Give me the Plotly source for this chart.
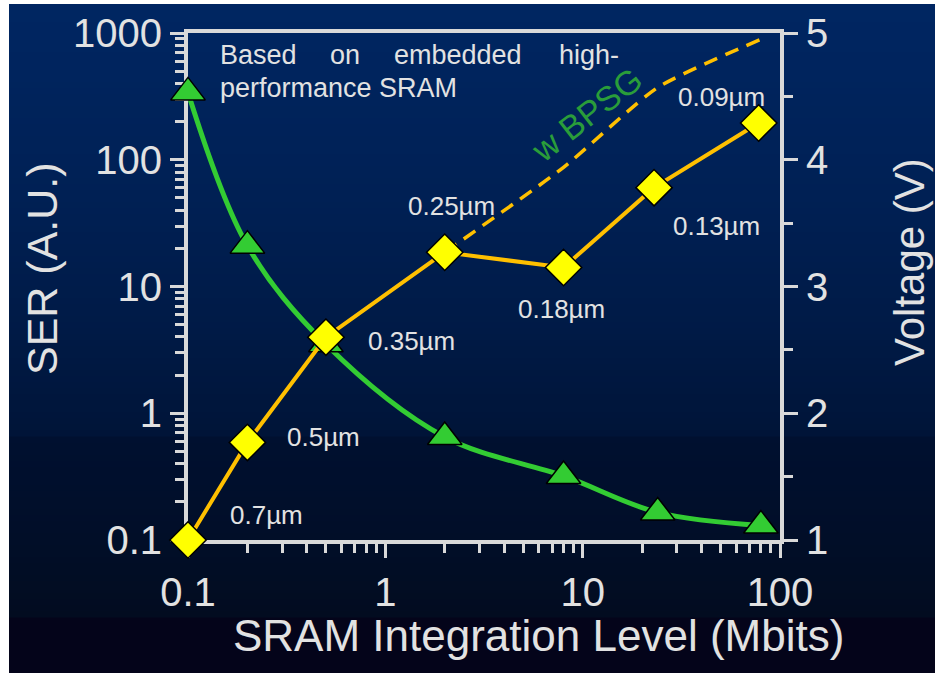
import plotly.graph_objects as go

# ---------------- data ----------------
ser_x = [0.1, 0.2, 0.5, 2, 8, 24, 80]
ser_y = [340, 21, 3.5, 0.65, 0.32, 0.165, 0.13]

volt_x = [0.1, 0.2, 0.5, 2, 8, 23, 78]
volt_y = [1.0, 1.77, 2.6, 3.27, 3.15, 3.78, 4.29]

bpsg_x = [2, 8, 24, 80]
bpsg_y = [3.27, 3.94, 4.57, 4.95]

node_labels = ["0.7µm", "0.5µm", "0.35µm", "0.25µm", "0.18µm", "0.13µm", "0.09µm"]

x_ticks = [0.1, 1, 10, 100]
x_ticktext = ["0.1", "1", "10", "100"]
y_ticks = [0.1, 1, 10, 100, 1000]
y_ticktext = ["0.1", "1", "10", "100", "1000"]
v_ticks = [1, 2, 3, 4, 5]
v_ticktext = ["1", "2", "3", "4", "5"]

# ---------------- layout helpers ----------------
W, H = 935, 673
L, R, T, B = 188, 780, 33, 540


def px(x):
    return (x - L) / (R - L)


def py(y):
    return (B - y) / (B - T)


AX = "#d9d9d9"
TXT = "#e2e2e2"
FONT = "Liberation Sans, Arial, sans-serif"

fig = go.Figure()

fig.add_trace(go.Scatter(
    x=ser_x, y=ser_y, mode="lines+markers", line=dict(color="#33cc33", width=5, shape="spline", smoothing=1.0),
    marker=dict(symbol="triangle-up", size=30, color="#33cc33", line=dict(color="#000000", width=1.5)),
    cliponaxis=False, showlegend=False, yaxis="y"))

fig.add_trace(go.Scatter(
    x=bpsg_x, y=bpsg_y, mode="lines", line=dict(color="#ffc000", width=3.5, dash="14px,9px", shape="spline", smoothing=0.6),
    cliponaxis=False, showlegend=False, yaxis="y2"))

fig.add_trace(go.Scatter(
    x=volt_x, y=volt_y, mode="lines+markers", line=dict(color="#ffc000", width=4),
    marker=dict(symbol="diamond", size=28, color="#ffff00", line=dict(color="#000000", width=1.5)),
    cliponaxis=False, showlegend=False, yaxis="y2"))

# background gradient
stops = [(4, (0, 38, 98)), (200, (0, 32, 84)), (330, (0, 26, 70)), (436, (0, 20, 56)),
         (437, (0, 16, 48)), (540, (1, 14, 40)), (617, (2, 12, 32)), (618, (4, 4, 26)), (673, (4, 4, 26))]


def col_at(y):
    for (y0, c0), (y1, c1) in zip(stops[:-1], stops[1:]):
        if y0 <= y <= y1:
            t = 0 if y1 == y0 else (y - y0) / (y1 - y0)
            return "rgb(%d,%d,%d)" % tuple(round(a + (b - a) * t) for a, b in zip(c0, c1))
    return "rgb(4,4,26)"


shapes = []
step = 6
yy = 4
while yy < H:
    y2 = min(yy + step, H)
    if yy < 437 <= y2:
        y2 = 437
    if yy < 618 <= y2:
        y2 = 618
    shapes.append(dict(type="rect", xref="paper", yref="paper", x0=px(9), x1=px(W + 5),
                       y0=py(y2 + 0.5), y1=py(yy), fillcolor=col_at((yy + y2) / 2),
                       line=dict(width=0), layer="below"))
    yy = y2

# label positions (pixels)
label_pos = [(266, 515), (323, 437), (411, 341), (451, 206), (561, 309), (716, 226), (721, 97)]
annotations = []
for t, (lx, ly) in zip(node_labels, label_pos):
    annotations.append(dict(text=t, x=px(lx), y=py(ly), xref="paper", yref="paper", showarrow=False,
                            font=dict(size=26, color=TXT, family=FONT), xanchor="center", yanchor="middle"))

# justified note
note_words = [("Based", 218), ("on", 328), ("embedded", 392), ("high-", 557)]
for w, lx in note_words:
    annotations.append(dict(text=w, x=px(lx), y=py(55), xref="paper", yref="paper", showarrow=False,
                            font=dict(size=27, color=TXT, family=FONT), xanchor="left", yanchor="middle"))
annotations.append(dict(text="performance SRAM", x=px(218), y=py(88), xref="paper", yref="paper", showarrow=False,
                        font=dict(size=27, color=TXT, family=FONT), xanchor="left", yanchor="middle"))

annotations.append(dict(text="w BPSG", x=px(586), y=py(115), xref="paper", yref="paper", showarrow=False,
                        textangle=-38, font=dict(size=34, color="#2a9d3a", family=FONT),
                        xanchor="center", yanchor="middle"))

annotations.append(dict(text="SER (A.U.)", x=px(42), y=py(269), xref="paper", yref="paper", showarrow=False,
                        textangle=-90, font=dict(size=43, color=TXT, family=FONT), xanchor="center", yanchor="middle"))
annotations.append(dict(text="Voltage (V)", x=px(909), y=py(262), xref="paper", yref="paper", showarrow=False,
                        textangle=-90, font=dict(size=42, color=TXT, family=FONT), xanchor="center", yanchor="middle"))
annotations.append(dict(text="SRAM Integration Level (Mbits)", x=px(538), y=py(635), xref="paper", yref="paper",
                        showarrow=False, font=dict(size=44, color=TXT, family=FONT), xanchor="center", yanchor="middle"))

x_minor = [m * 10 ** d for d in (-1, 0, 1) for m in range(2, 10)]
y_minor = [m * 10 ** d for d in (-1, 0, 1, 2) for m in range(2, 10)]

tickfont = dict(size=40, color=TXT, family=FONT)

fig.update_layout(
    width=W, height=H,
    margin=dict(l=L, r=W - R, t=T, b=H - B),
    paper_bgcolor="#ffffff", plot_bgcolor="rgba(0,0,0,0)",
    shapes=shapes, annotations=annotations, showlegend=False,
    xaxis=dict(type="log", range=[-1, 2], tickvals=x_ticks, ticktext=x_ticktext, ticks="outside",
               ticklen=14, tickwidth=3, tickcolor=AX, showline=True, linewidth=4, linecolor=AX, mirror=True,
               showgrid=False, zeroline=False, tickfont=tickfont, layer="below traces",
               minor=dict(tickvals=x_minor, ticks="outside", ticklen=9, tickwidth=3, tickcolor=AX, showgrid=False)),
    yaxis=dict(type="log", range=[-1, 3], tickvals=y_ticks, ticktext=y_ticktext, ticks="outside",
               ticklen=14, tickwidth=3, tickcolor=AX, showline=True, linewidth=4, linecolor=AX,
               showgrid=False, zeroline=False, tickfont=tickfont, layer="below traces",
               minor=dict(tickvals=y_minor, ticks="outside", ticklen=9, tickwidth=3, tickcolor=AX, showgrid=False)),
    yaxis2=dict(overlaying="y", side="right", range=[1, 5], tickvals=v_ticks, ticktext=v_ticktext,
                ticks="outside", ticklen=14, tickwidth=3, tickcolor=AX, showline=True, linewidth=4,
                linecolor=AX, showgrid=False, zeroline=False, tickfont=tickfont, layer="below traces",
                minor=dict(dtick=0.5, ticks="outside", ticklen=9, tickwidth=3, tickcolor=AX, showgrid=False)),
)

fig.write_html("out.html", config={"displayModeBar": False},
               post_script="document.body.style.margin='0';document.body.style.overflow='hidden';")
